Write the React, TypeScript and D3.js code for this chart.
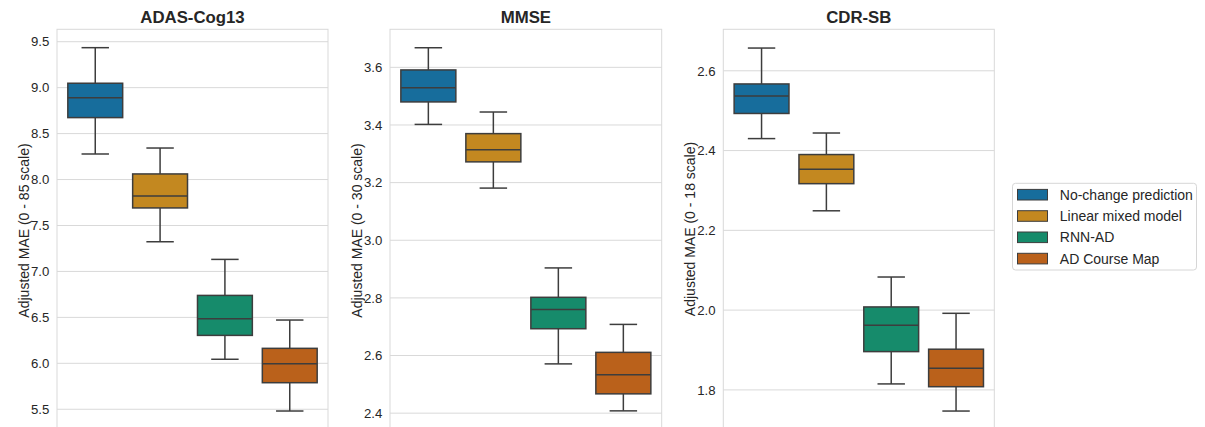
import React from "react";
import * as d3 from "d3";

// ---- Data ----
const methods = ["No-change prediction", "Linear mixed model", "RNN-AD", "AD Course Map"];
const palette = ["#176d9c", "#c38820", "#168b6b", "#ba611b"];

// [whisker low, Q1, median, Q3, whisker high] per method
const adasStats = [
  [8.278, 8.674, 8.891, 9.048, 9.435],
  [7.323, 7.691, 7.822, 8.061, 8.343],
  [6.044, 6.304, 6.485, 6.739, 7.131],
  [5.481, 5.789, 5.996, 6.163, 6.471],
];
const mmseStats = [
  [3.402, 3.48, 3.529, 3.591, 3.668],
  [3.181, 3.272, 3.314, 3.37, 3.445],
  [2.571, 2.693, 2.76, 2.802, 2.904],
  [2.408, 2.467, 2.533, 2.611, 2.708],
];
const cdrStats = [
  [2.43, 2.493, 2.537, 2.567, 2.657],
  [2.249, 2.317, 2.353, 2.39, 2.444],
  [1.815, 1.896, 1.962, 2.008, 2.083],
  [1.747, 1.808, 1.854, 1.902, 1.992],
];

const adasTicks = [5.5, 6.0, 6.5, 7.0, 7.5, 8.0, 8.5, 9.0, 9.5];
const mmseTicks = [2.4, 2.6, 2.8, 3.0, 3.2, 3.4, 3.6];
const cdrTicks = [1.8, 2.0, 2.2, 2.4, 2.6];

const titles = ["ADAS-Cog13", "MMSE", "CDR-SB"];
const yLabels = ["Adjusted MAE (0 - 85 scale)", "Adjusted MAE (0 - 30 scale)", "Adjusted MAE (0 - 18 scale)"];

// ---- Layout ----
const W = 1205;
const H = 427;
const TOP = 29.3;
const BOTTOM = 427;
const FONT = "'Liberation Sans', Arial, sans-serif";
const TEXT = "#262626";
const GRID = "#d9d9d9";
const EDGE = "#3d3d3d";

const panels = [
  { left: 57, right: 328, domain: [5.307, 9.635], ticks: adasTicks, stats: adasStats, labelY: 230.5 },
  { left: 390, right: 661.7, domain: [2.352, 3.732], ticks: mmseTicks, stats: mmseStats, labelY: 230.5 },
  { left: 723.3, right: 994.3, domain: [1.707, 2.704], ticks: cdrTicks, stats: cdrStats, labelY: 229 },
];
const fmt = d3.format(".1f");

function Panel({ idx }: { idx: number }) {
  const p = panels[idx];
  const y = d3.scaleLinear().domain(p.domain).range([BOTTOM, TOP]);
  const x = d3.scalePoint<string>().domain(methods).range([p.left, p.right]).padding(0.59);
  const boxW = x.step() * 0.846;
  const capW = boxW / 2;
  const cx = (p.left + p.right) / 2;
  return (
    <g>
      <rect x={p.left} y={TOP} width={p.right - p.left} height={BOTTOM + 20 - TOP} fill="white" stroke={GRID} strokeWidth={1} />
      {p.ticks.map((t) => (
        <g key={t}>
          <line x1={p.left} x2={p.right} y1={y(t)} y2={y(t)} stroke={GRID} strokeWidth={1} />
          <text x={p.left - 7.7} y={y(t)} dy="0.36em" textAnchor="end" fontSize={13.2} fill={TEXT} fontFamily={FONT}>
            {fmt(t)}
          </text>
        </g>
      ))}
      {methods.map((m, i) => {
        const [lo, q1, med, q3, hi] = p.stats[i];
        const c = x(m)!;
        return (
          <g key={m}>
            <line x1={c} x2={c} y1={y(hi)} y2={y(q3)} stroke={EDGE} strokeWidth={1.5} />
            <line x1={c} x2={c} y1={y(q1)} y2={y(lo)} stroke={EDGE} strokeWidth={1.5} />
            <line x1={c - capW / 2} x2={c + capW / 2} y1={y(hi)} y2={y(hi)} stroke={EDGE} strokeWidth={1.5} />
            <line x1={c - capW / 2} x2={c + capW / 2} y1={y(lo)} y2={y(lo)} stroke={EDGE} strokeWidth={1.5} />
            <rect x={c - boxW / 2} y={y(q3)} width={boxW} height={y(q1) - y(q3)} fill={palette[i]} stroke={EDGE} strokeWidth={1.5} />
            <line x1={c - boxW / 2} x2={c + boxW / 2} y1={y(med)} y2={y(med)} stroke={EDGE} strokeWidth={1.5} />
          </g>
        );
      })}
      <text x={cx} y={22.7} textAnchor="middle" fontSize={16.8} fontWeight="bold" fill={TEXT} fontFamily={FONT}>
        {titles[idx]}
      </text>
      <text
        transform={`translate(${p.left - 28.5},${p.labelY}) rotate(-90)`}
        textAnchor="middle"
        fontSize={14}
        fill={TEXT}
        fontFamily={FONT}
      >
        {yLabels[idx]}
      </text>
    </g>
  );
}

function Legend() {
  const lx = 1012.5;
  const ly = 183.3;
  const rows = d3.scaleLinear().domain([0, 3]).range([ly + 11.4, ly + 11.4 + 3 * 21.3]);
  return (
    <g>
      <rect x={lx} y={ly} width={184} height={86.7} rx={3} fill="white" stroke="#d6d6d6" strokeWidth={1} />
      {methods.map((m, i) => (
        <g key={m}>
          <rect x={lx + 5} y={rows(i) - 5.3} width={30} height={10.6} fill={palette[i]} stroke={EDGE} strokeWidth={1} />
          <text x={lx + 47.3} y={rows(i)} dy="0.36em" fontSize={14} fill={TEXT} fontFamily={FONT}>
            {m}
          </text>
        </g>
      ))}
    </g>
  );
}

export default function App() {
  return (
    <svg width={W} height={H} style={{ position: "absolute", left: 0, top: 0, background: "white" }}>
      <rect width={W} height={H} fill="white" />
      {panels.map((_, i) => (
        <Panel key={i} idx={i} />
      ))}
      <Legend />
    </svg>
  );
}
